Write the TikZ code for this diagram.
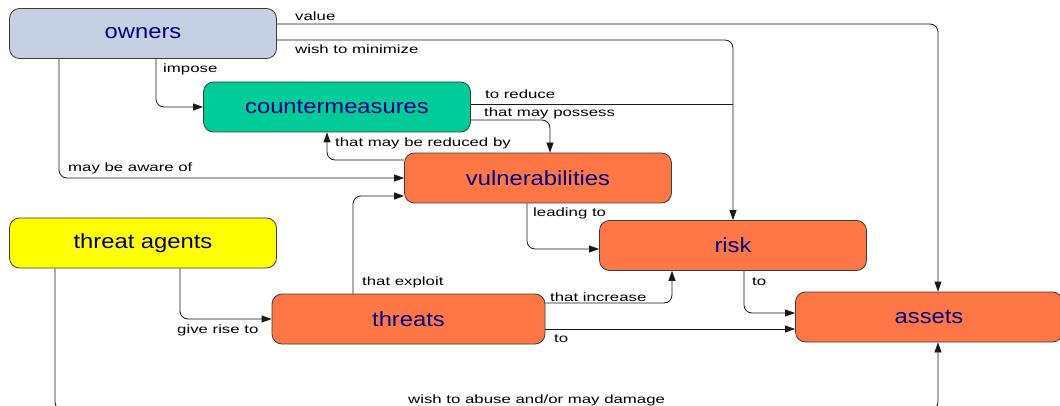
\documentclass[tikz,border=0pt]{standalone}
\usepackage{fontspec}
\setmainfont{Liberation Sans}
\newfontfamily\boxfont[FakeStretch=1.16]{Liberation Sans}
\newfontfamily\linkfont[FakeStretch=1.4]{Liberation Sans}
\usetikzlibrary{positioning,calc,arrows.meta}

\definecolor{ownerblue}{RGB}{197,208,226}
\definecolor{cmgreen}{RGB}{0,204,153}
\definecolor{riskred}{RGB}{255,119,68}
\definecolor{agentyellow}{RGB}{255,255,0}
\definecolor{boxtext}{RGB}{0,0,128}
\definecolor{boxline}{RGB}{60,60,60}

\tikzset{
  entity/.style={draw=boxline, line width=0.8pt, rounded corners=10pt, minimum width=267pt, minimum height=50pt, inner sep=0pt, font=\boxfont\fontsize{20.5}{24}\selectfont, text=boxtext},
  link/.style={draw=black!90, line width=0.8pt, rounded corners=8pt, -{Triangle[length=10pt,width=7pt]}},
  linklabel/.style={anchor=base west, inner sep=0pt, font=\linkfont\fontsize{12}{14}\selectfont}
}

\begin{document}
\begin{tikzpicture}[x=1pt,y=-1pt]
    \useasboundingbox (0,0) rectangle (1060,406);

    % Entities
    \node[entity, fill=ownerblue] (owners) at (143,33.5) {owners};
    \node[entity, fill=cmgreen] (counter) at (337,107) {countermeasures};
    \node[entity, fill=riskred] (vuln) at (538,178) {vulnerabilities};
    \node[entity, fill=agentyellow] (agents) at (143,243) {threat agents};
    \node[entity, fill=riskred] (risk) at (733,245.5) {risk};
    \node[entity, fill=riskred, minimum width=273pt] (threats) at (408.5,319) {threats};
    \node[entity, fill=riskred] (assets) at (929,317) {assets};
    \coordinate (abusecorner) at (55,410);

    % Owners
    \draw[link] (owners.east |- 0,24) -| (assets.north -| 938,0);
    \node[linklabel] (lvalue) at (295,21) {value};
    \draw[link] (owners.east |- 0,40) -| (risk.north);
    \node[linklabel] (lminimize) at (295,54) {wish to minimize};
    \draw[link] (owners.south -| 156,0) |- (counter.west);
    \node[linklabel] (limpose) at (163,73) {impose};
    \draw[link] (owners.south -| 59,0) |- (vuln.west);
    \node[linklabel] (laware) at (68,172) {may be aware of};

    % Countermeasures and vulnerabilities
    \draw[link, -] (counter.east |- 0,104) -- (risk.north |- 0,104);
    \node[linklabel] (lreduce) at (485,99) {to reduce};
    \draw[link] (counter.east |- 0,120) -| (vuln.north -| 550,0);
    \node[linklabel] (lpossess) at (484,117) {that may possess};
    \draw[link] (vuln.west |- 0,160) -| (counter.south -| 327,0);
    \node[linklabel] (lreduced) at (335,147) {that may be reduced by};
    \draw[link] (vuln.south -| 527,0) |- (risk.west |- 0,249);
    \node[linklabel] (lleading) at (533,217) {leading to};

    % Threats
    \draw[link] (agents.south -| 180,0) |- (threats.west);
    \node[linklabel] (lrise) at (177,333) {give rise to};
    \draw[link] (threats.north -| 353,0) |- (vuln.west |- 0,196);
    \node[linklabel] (lexploit) at (362,285) {that exploit};
    \draw[link] (threats.east |- 0,303) -| (risk.south -| 672,0);
    \node[linklabel] (lincrease) at (550,301) {that increase};
    \draw[link] (threats.east |- 0,329) -- (assets.west |- 0,329);
    \node[linklabel] (lto) at (554,342) {to};
    \draw[link] (risk.south -| 744,0) |- (assets.west |- 0,313);
    \node[linklabel] (lriskto) at (752,285) {to};
    \draw[link] (agents.south -| 55,0) -- (abusecorner) -| (assets.south -| 938,0);
    \node[linklabel] (labuse) at (408,403) {wish to abuse and/or may damage};
\end{tikzpicture}
\end{document}
